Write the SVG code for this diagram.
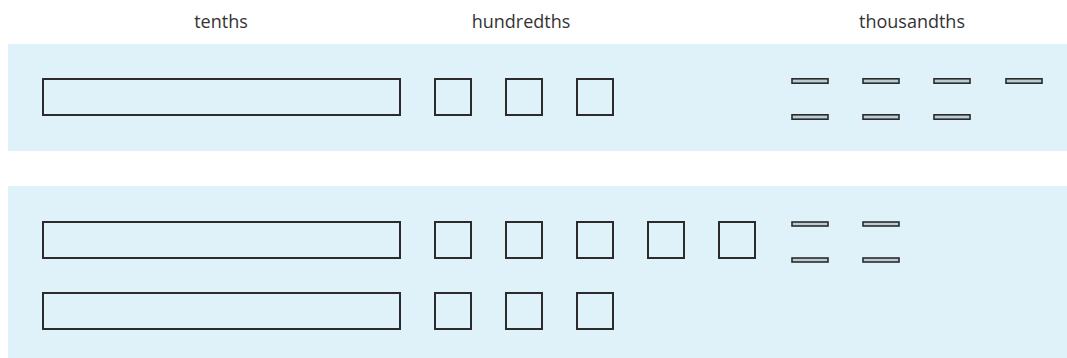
<svg xmlns="http://www.w3.org/2000/svg" width="1067" height="358" viewBox="0 0 1067 358">
<style>
.panel{fill:#dff1f9}
.lbl{font-family:"Open Sans",sans-serif;font-size:18px;fill:#333;text-anchor:middle}
.b{fill:none;stroke:#2b2b2b;stroke-width:2}
.t{fill:#b9cbd3;stroke:#2b2b2b;stroke-width:1.6}
</style>
<rect x="0" y="0" width="1067" height="358" fill="#fff"/>
<g id="labels">
<text class="lbl" x="221" y="28">tenths</text>
<text class="lbl" x="521" y="28">hundredths</text>
<text class="lbl" x="912" y="28">thousandths</text>
</g>
<g id="panel-top">
<rect class="panel" x="8" y="44" width="1059" height="107"/>
<rect class="b" x="43" y="79" width="357" height="36"/>
<rect class="b" x="435" y="79" width="36" height="36"/>
<rect class="b" x="506" y="79" width="36" height="36"/>
<rect class="b" x="577" y="79" width="36" height="36"/>
<rect class="t" x="792" y="78.8" width="36" height="4.4"/>
<rect class="t" x="863" y="78.8" width="36" height="4.4"/>
<rect class="t" x="934" y="78.8" width="36" height="4.4"/>
<rect class="t" x="1006" y="78.8" width="36" height="4.4"/>
<rect class="t" x="792" y="114.8" width="36" height="4.4"/>
<rect class="t" x="863" y="114.8" width="36" height="4.4"/>
<rect class="t" x="934" y="114.8" width="36" height="4.4"/>
</g>
<g id="panel-bottom">
<rect class="panel" x="8" y="186" width="1059" height="172"/>
<rect class="b" x="43" y="222" width="357" height="36"/>
<rect class="b" x="43" y="293" width="357" height="36"/>
<rect class="b" x="435" y="222" width="36" height="36"/>
<rect class="b" x="506" y="222" width="36" height="36"/>
<rect class="b" x="577" y="222" width="36" height="36"/>
<rect class="b" x="648" y="222" width="36" height="36"/>
<rect class="b" x="719" y="222" width="36" height="36"/>
<rect class="b" x="435" y="293" width="36" height="36"/>
<rect class="b" x="506" y="293" width="36" height="36"/>
<rect class="b" x="577" y="293" width="36" height="36"/>
<rect class="t" x="792" y="222" width="36" height="4"/>
<rect class="t" x="863" y="222" width="36" height="4"/>
<rect class="t" x="792" y="258" width="36" height="4"/>
<rect class="t" x="863" y="258" width="36" height="4"/>
</g>
<g id="connectors"></g>
</svg>
